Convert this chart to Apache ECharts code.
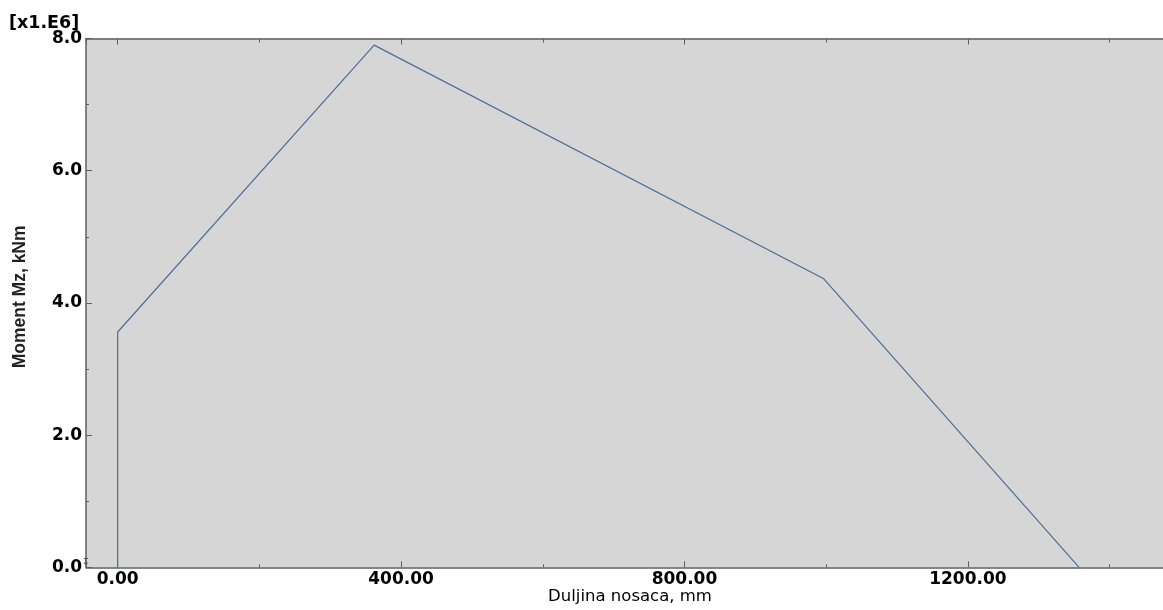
<!DOCTYPE html>
<html>
<head>
<meta charset="utf-8">
<script src="https://cdn.jsdelivr.net/npm/echarts@6/dist/echarts.min.js"></script>
<style>
html,body{margin:0;padding:0;background:#fff;overflow:hidden;}
#chart{width:1163px;height:610px;}
</style>
</head>
<body>
<div id="chart"></div>
<script>
// Data (length in mm, moment in 1e6 units)
var lengthMm = [0, 0, 362, 996, 1357];
var momentE6 = [0, 3.56, 7.9, 4.37, 0];
var xRange = [-44.7, 1475.4];
var yRange = [0, 8];
var xTitle = 'Duljina nosaca, mm';
var yTitle = 'Moment Mz, kNm';
var scaleNote = '[x1.E6]';

var points = lengthMm.map(function (x, i) { return [x, momentE6[i]]; });

var chart = echarts.init(document.getElementById('chart'));
var axisColor = '#5f5f5f';
var labelFont = { fontFamily: 'DejaVu Sans', fontWeight: 'bold', fontSize: 17, color: '#000' };

chart.setOption({
  animation: false,
  grid: { left: 86, top: 38.5, right: 0, bottom: 42.7, show: true, backgroundColor: '#d6d6d6', borderWidth: 0,
          containLabel: false, outerBoundsMode: 'none' },
  xAxis: [{
    type: 'value', position: 'bottom', min: xRange[0], max: xRange[1],
    minInterval: 400, maxInterval: 400,
    axisLine: { show: true, onZero: false, lineStyle: { color: axisColor, width: 1.5 } },
    axisTick: { show: true, inside: true, length: 6, lineStyle: { color: axisColor } },
    minorTick: { show: true, splitNumber: 2, length: 3, lineStyle: { color: axisColor } },
    splitLine: { show: false },
    axisLabel: Object.assign({
      margin: 4,
      formatter: function (v) { return (Math.abs(v % 400) < 1e-6) ? v.toFixed(2) : ''; }
    }, labelFont)
  }, {
    type: 'value', position: 'top', min: xRange[0], max: xRange[1],
    minInterval: 400, maxInterval: 400,
    axisLine: { show: true, onZero: false, lineStyle: { color: axisColor, width: 1.5 } },
    axisTick: { show: true, inside: true, length: 6, lineStyle: { color: axisColor } },
    minorTick: { show: true, splitNumber: 2, length: 4, lineStyle: { color: axisColor } },
    splitLine: { show: false },
    axisLabel: { show: false }
  }],
  yAxis: [{
    type: 'value', min: yRange[0], max: yRange[1], interval: 2,
    axisLine: { show: true, onZero: false, lineStyle: { color: axisColor, width: 1.5 } },
    axisTick: { show: true, inside: true, length: 6, lineStyle: { color: axisColor } },
    minorTick: { show: true, splitNumber: 2, length: 3, lineStyle: { color: axisColor } },
    splitLine: { show: false },
    axisLabel: Object.assign({
      margin: 4,
      formatter: function (v) { return v.toFixed(1); }
    }, labelFont),
    name: yTitle, nameLocation: 'middle', nameGap: 57, nameRotate: 90,
    nameTextStyle: { fontFamily: 'Liberation Sans', fontWeight: 'bold', fontSize: 17.5, color: '#222', padding: [0, 0, 0, 12] }
  }],
  graphic: [{
    type: 'text', left: 9, top: 14,
    style: { text: scaleNote, fontFamily: 'DejaVu Sans', fontWeight: 'bold', fontSize: 17.5, fill: '#000' }
  }, {
    type: 'text', x: 630, y: 597,
    style: { text: xTitle, fontFamily: 'DejaVu Sans', fontSize: 16.5, fill: '#000', align: 'center', verticalAlign: 'middle' }
  }, {
    type: 'text', left: 82, top: 558,
    style: { text: '↧', fontFamily: 'DejaVu Sans', fontSize: 9, fill: '#000' }
  }],
  series: [{
    type: 'line', xAxisIndex: 0, yAxisIndex: 0, data: points,
    showSymbol: false, symbol: 'none',
    lineStyle: { color: '#4d6e96', width: 1.2 }
  }]
});
</script>
</body>
</html>
